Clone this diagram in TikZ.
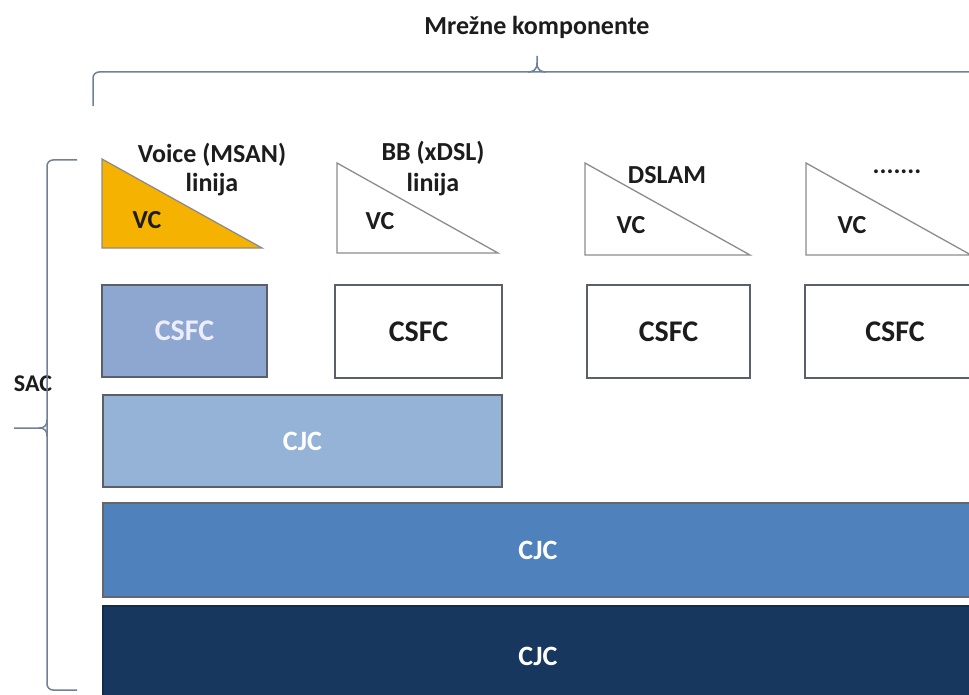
\documentclass[tikz,border=0pt]{standalone}
\usepackage{fontspec}
\setmainfont{Carlito}
\definecolor{orangeC}{RGB}{246,178,0}
\definecolor{csfcA}{RGB}{141,167,208}
\definecolor{cjcA}{RGB}{149,179,215}
\definecolor{cjcB}{RGB}{79,129,189}
\definecolor{cjcC}{RGB}{23,55,94}
\definecolor{braceC}{RGB}{112,128,150}
\definecolor{edgeC}{RGB}{90,95,105}
\definecolor{txtC}{RGB}{28,28,28}

\begin{document}

\begin{tikzpicture}[x=1pt,y=-1pt,
  lbl/.style={font=\fontsize{26}{28}\selectfont\bfseries, inner sep=0pt, text=txtC},
  boxlbl/.style={font=\fontsize{30}{32}\selectfont\bfseries},
  cjclbl/.style={font=\fontsize{28}{30}\selectfont\bfseries, text=white},
  layerbox/.style={draw=edgeC, line width=1.3pt, inner sep=0pt, anchor=center},
  tri/.style={draw=black!45, line width=1.3pt},
  brace/.style={draw=braceC, line width=1.5pt}]
\useasboundingbox (0,0) rectangle (969,695);
\clip (0,0) rectangle (969,695);
\fill[white] (0,0) rectangle (969,695);

% title and top brace
\node[lbl] (title) at (537,27) {Mrežne komponente};
\draw[brace, rounded corners=6pt] (93,106) -- (93,72) -- (990,72);
\coordinate (tpeak) at (537,56);
\draw[brace] (tpeak) -- (537,63) .. controls (537,70) and (533,72) .. (528,72);
\draw[brace] (537,63) .. controls (537,70) and (541,72) .. (546,72);

% SAC brace
\node[lbl, font=\fontsize{24}{26}\selectfont\bfseries] (sac) at (33,384) {SAC};
\draw[brace, rounded corners=6pt] (77,160) -- (47,160) -- (47,690) -- (77,690);
\coordinate (stip) at (14,428);
\draw[brace] (stip) -- (39,428) .. controls (45,428) and (47,425) .. (47,420);
\draw[brace] (39,428) .. controls (45,428) and (47,431) .. (47,436);

% triangles
\draw[tri, fill=orangeC] (102,159) -- (102,248) -- (262,248) -- cycle;
\draw[tri, fill=white] (337,163) -- (337,253) -- (498,253) -- cycle;
\draw[tri, fill=white] (585,163) -- (585,255) -- (750,255) -- cycle;
\draw[tri, fill=white] (806,163) -- (806,255) -- (971,255) -- cycle;

\node[lbl] (t1a) at (212,155) {Voice (MSAN)};
\node[lbl] (t1b) at (212,185) {linija};
\node[lbl] (vc1) at (147,220) {VC};
\node[lbl] (t2a) at (433,153) {BB (xDSL)};
\node[lbl] (t2b) at (433,185) {linija};
\node[lbl] (vc2) at (380,221) {VC};
\node[lbl] (t3a) at (667,175) {DSLAM};
\node[lbl] (vc3) at (631,225) {VC};
\node[lbl] (t4a) at (897,172) {.......};
\node[lbl] (vc4) at (852,225) {VC};

% CSFC boxes
\node[layerbox, fill=csfcA, minimum width=165pt, minimum height=92pt, boxlbl, text=white!93!blue] (c1) at (184.5,331) {CSFC};
\node[layerbox, fill=white, minimum width=167pt, minimum height=93pt, boxlbl, text=txtC] (c2) at (418.5,331.5) {CSFC};
\node[layerbox, fill=white, minimum width=163pt, minimum height=93pt, boxlbl, text=txtC] (c3) at (668.5,331.5) {CSFC};
\node[layerbox, fill=white, minimum width=180pt, minimum height=93pt, boxlbl, text=txtC] (c4) at (895,331.5) {CSFC};

% CJC layers
\node[layerbox, fill=cjcA, minimum width=399pt, minimum height=92pt, cjclbl] (j1) at (302.5,441) {CJC};
\node[layerbox, fill=cjcB, draw=black!60, minimum width=870pt, minimum height=94pt, cjclbl] (j2) at (538,550) {CJC};
\node[layerbox, fill=cjcC, draw=cjcC!80!black, minimum width=870pt, minimum height=100pt, cjclbl] (j3) at (538,656) {CJC};
\end{tikzpicture}

\end{document}
